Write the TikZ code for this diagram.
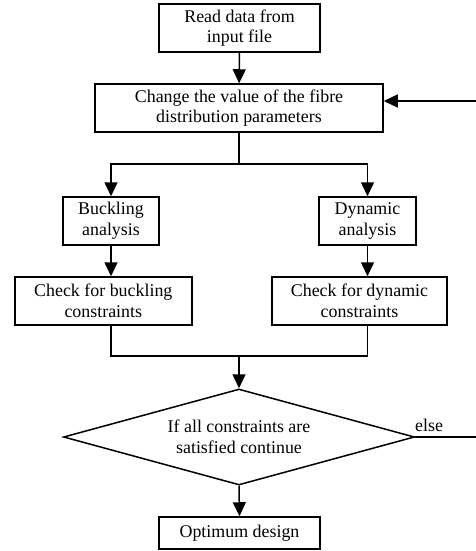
\documentclass[tikz,border=0pt]{standalone}
\usepackage{fontspec}
\setmainfont{Liberation Serif}
\usetikzlibrary{arrows.meta,shapes.geometric}
\begin{document}
\begin{tikzpicture}[x=1pt,y=-1pt,
  box/.style={draw,line width=1.5pt,inner sep=0pt,align=center,
    font=\fontsize{17.9}{20.7}\selectfont},
  dia/.style={draw,diamond,line width=1.5pt,inner sep=0pt,align=center,
    shape aspect=3.66,minimum width=351pt,minimum height=96pt,
    font=\fontsize{17.9}{20.7}\selectfont},
  conn/.style={line width=1.5pt},
  arr/.style={line width=1.5pt,-{Triangle[width=13pt,length=14pt]}},
  lbl/.style={inner sep=0pt,font=\fontsize{17.9}{20.7}\selectfont}]
\useasboundingbox (0,0) rectangle (476,551);
\node[box,minimum width=161pt,minimum height=48pt] (read) at (239.5,28) {Read data from\\input file};
\node[box,minimum width=288pt,minimum height=48pt] (change) at (239,108) {Change the value of the fibre\\distribution parameters};
\node[box,minimum width=96pt,minimum height=48pt] (buck) at (111,221) {Buckling\\analysis};
\node[box,minimum width=97pt,minimum height=48pt] (dyn) at (367.5,221) {Dynamic\\analysis};
\node[box,minimum width=177pt,minimum height=48pt] (chkb) at (103.3,301) {Check for buckling\\constraints};
\node[box,minimum width=175pt,minimum height=48pt] (chkd) at (359.5,301) {Check for dynamic\\constraints};
\node[dia] (cond) at (239,437) {If all constraints are\\satisfied continue};
\node[box,minimum width=161pt,minimum height=32pt] (opt) at (239.5,533) {Optimum design};
\node[lbl,anchor=south west] (else) at (415,432) {else};
\coordinate (split) at (239,164);
\coordinate (merge) at (239,356);
\coordinate (loopb) at (479,437);
\coordinate (loopt) at (479,101);
\draw[arr] (read) -- (change);
\draw[conn] (change.south) -- (split);
\draw[arr] (split) -| (buck.north);
\draw[arr] (split) -| (dyn.north);
\draw[arr] (buck.south) -- (buck.south |- chkb.north);
\draw[arr] (dyn.south) -- (dyn.south |- chkd.north);
\draw[conn] (buck.south |- chkb.south) |- (merge);
\draw[conn] (dyn.south |- chkd.south) |- (merge);
\draw[arr] (merge) -- (cond.north);
\draw[arr] (cond.south) -- (opt.north);
\draw[arr] (cond.east) -- (loopb) -- (loopt) -- (change.east |- loopt);
\end{tikzpicture}
\end{document}
